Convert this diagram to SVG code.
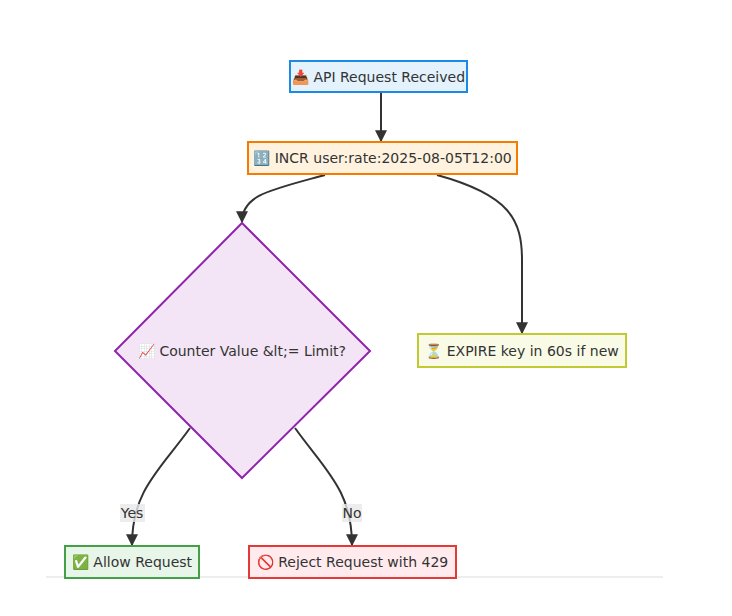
<svg xmlns="http://www.w3.org/2000/svg" width="732" height="616" viewBox="0 0 732 616">
<style>
text{font-family:"Trebuchet MS","DejaVu Sans","Noto Sans",sans-serif;font-size:14px;fill:#333;text-anchor:middle;dominant-baseline:central}
.e{fill:none;stroke:#333;stroke-width:2}
.lb{fill:#e8e8e8;opacity:0.8}
</style>
<defs><marker id="a" viewBox="0 0 10 10" refX="9" refY="5" markerWidth="6" markerHeight="6" orient="auto"><path d="M0,0L10,5L0,10z" fill="#333"/></marker></defs>
<rect width="732" height="616" fill="#fff"/>
<line x1="46" y1="577" x2="663" y2="577" stroke="#eee" stroke-width="2"/>
<g id="connectors">
<path class="e" d="M381,92V141" marker-end="url(#a)"/>
<path class="e" d="M325,175C270,190 242,195 242,222" marker-end="url(#a)"/>
<path class="e" d="M437,175C510,195 522,220 522,260V333" marker-end="url(#a)"/>
<path class="e" d="M190,428C160,470 132,490 132,545" marker-end="url(#a)"/>
<path class="e" d="M295,428C325,470 352,490 352,545" marker-end="url(#a)"/>
<rect class="lb" x="120" y="504" width="25" height="18"/><text x="132" y="513">Yes</text>
<rect class="lb" x="342" y="504" width="20" height="18"/><text x="352" y="513">No</text>
</g>
<g id="api"><rect x="290" y="61" width="177" height="31" fill="#e3f2fd" stroke="#1e88e5" stroke-width="2"/><text x="378.5" y="77">📥 API Request Received</text></g>
<g id="incr"><rect x="248" y="142" width="269" height="32" fill="#fff3e0" stroke="#f57c00" stroke-width="2"/><text x="382.5" y="158">🔢 INCR user:rate:2025-08-05T12:00</text></g>
<g id="check"><polygon points="242,223 370,351 242,478 115,351" fill="#f3e5f5" stroke="#8e24aa" stroke-width="2"/><text x="242" y="351">📈 Counter Value &amp;lt;= Limit?</text></g>
<g id="expire"><rect x="418" y="334" width="208" height="33" fill="#f9fbe7" stroke="#c0ca33" stroke-width="2"/><text x="522" y="351">⏳ EXPIRE key in 60s if new</text></g>
<g id="allow"><rect x="65" y="546" width="134" height="32" fill="#e8f5e9" stroke="#43a047" stroke-width="2"/><text x="132" y="562">✅ Allow Request</text></g>
<g id="reject"><rect x="249" y="546" width="207" height="32" fill="#ffebee" stroke="#e53935" stroke-width="2"/><text x="352.5" y="562">🚫 Reject Request with 429</text></g>
</svg>
